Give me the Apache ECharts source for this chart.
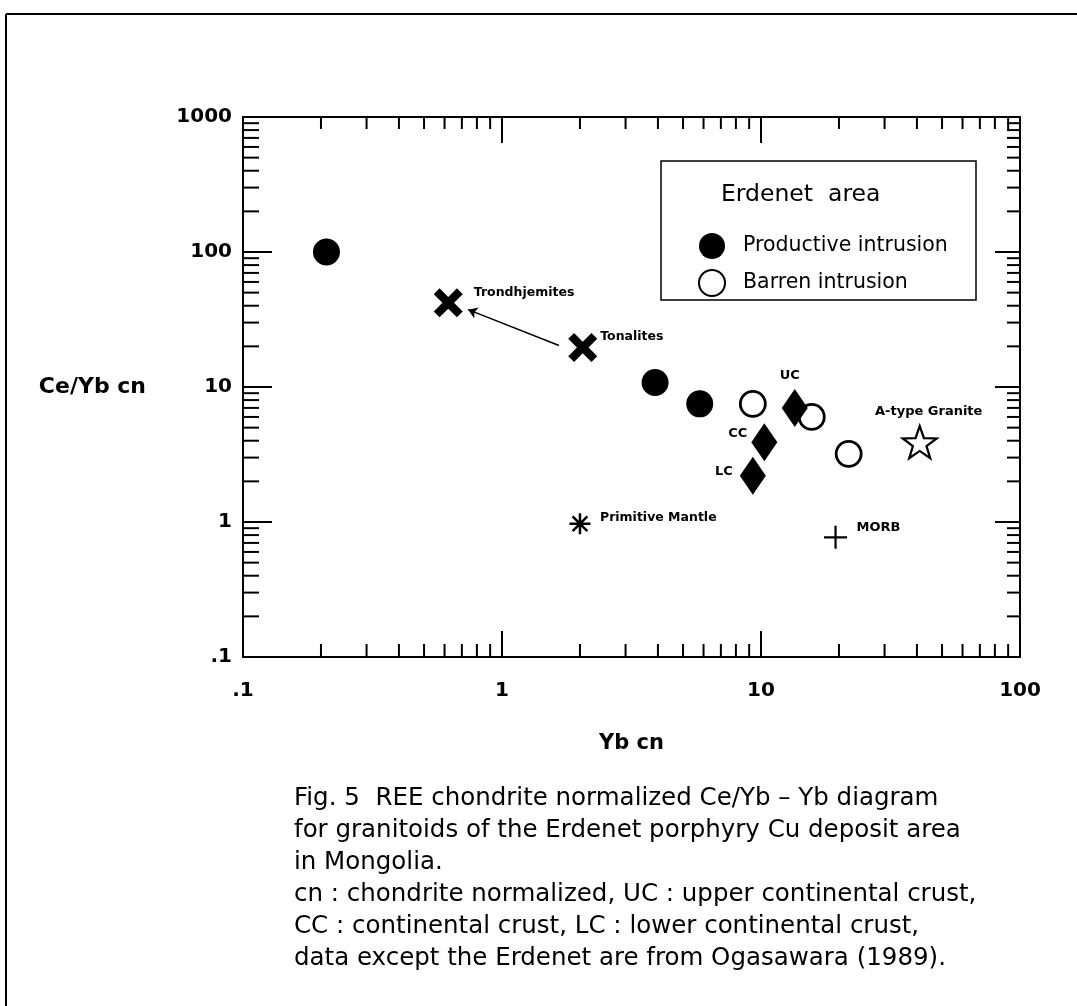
<!DOCTYPE html>
<html>
<head>
<meta charset="utf-8">
<script src="https://cdn.jsdelivr.net/npm/echarts@6/dist/echarts.min.js"></script>
<style>
  html, body { margin: 0; padding: 0; background: #fff; }
  #chart { width: 1077px; height: 1006px; }
</style>
</head>
<body>
<div id="chart"></div>
<script>
// values (Yb cn, Ce/Yb cn)
const productive = [[0.21, 100], [3.9, 10.8], [5.8, 7.5]];
const barren = [[9.3, 7.5], [15.7, 6.0], [21.8, 3.2]];
const crustNames = ['UC', 'CC', 'LC'];
const crust = [[13.5, 7.0], [10.3, 3.9], [9.3, 2.2]];
const trondhjemites = [0.62, 42];
const tonalites = [2.05, 19.6];
const primitiveMantle = [2.0, 0.97];
const morb = [19.4, 0.77];
const aTypeGranite = [41, 3.9];
const arrowPath = [[1.66, 20.3], [0.74, 37.4]];

// ticks
const xTicks = [0.1, 1, 10, 100];
const xTickLabels = ['.1', '1', '10', '100'];
const yTicks = [0.1, 1, 10, 100, 1000];
const yTickLabels = ['.1', '1', '10', '100', '1000'];
const minorSteps = [2, 3, 4, 5, 6, 7, 8, 9];

const xMinor = xTicks.slice(0, -1).flatMap(d => minorSteps.map(s => +(d * s).toPrecision(3)));
const yMinor = yTicks.slice(0, -1).flatMap(d => minorSteps.map(s => +(d * s).toPrecision(3)));

const FONT = 'DejaVu Sans';
const X_PATH = 'path://M20 0 L50 30 L80 0 L100 20 L70 50 L100 80 L80 100 L50 70 L20 100 L0 80 L30 50 L0 20 Z';
const ASTERISK = 'path://M50 0 L50 100 M0 50 L100 50 M15 15 L85 85 M85 15 L15 85';
const PLUS = 'path://M50 0 L50 100 M0 50 L100 50';
const STAR = 'path://M50 0 L61.76 33.82 L97.55 34.55 L69.02 56.18 L79.39 90.45 L50 70 L20.61 90.45 L30.98 56.18 L2.45 34.55 L38.24 33.82 Z';

function tickLabel(ticks, labels) {
  return function (v) {
    const i = ticks.findIndex(t => Math.abs(Math.log10(t) - Math.log10(v)) < 1e-6);
    return i < 0 ? '' : labels[i];
  };
}

const lineStyle = { color: '#000', width: 2 };
const smallLabel = { show: true, color: '#000', fontFamily: FONT, fontWeight: 'bold', fontSize: 13 };

function axisBase(min, max) {
  return {
    type: 'log',
    logBase: 10,
    min: min,
    max: max,
    axisLine: { show: true, onZero: false, lineStyle: lineStyle },
    splitLine: { show: false },
    minorTick: { show: false },
    minorSplitLine: { show: false }
  };
}

// minor tick marks (2..9 in every decade) drawn through the axis scales
function minorTicks(values, isX) {
  return {
    type: 'custom',
    coordinateSystem: 'cartesian2d',
    silent: true,
    z: 5,
    data: values.map(v => isX ? [v, yTicks[0]] : [xTicks[0], v]),
    renderItem: function (params, api) {
      const v = api.value(isX ? 0 : 1);
      const st = { stroke: '#000', lineWidth: 2 };
      if (isX) {
        const a = api.coord([v, yTicks[0]]);
        const b = api.coord([v, yTicks[yTicks.length - 1]]);
        return { type: 'group', children: [
          { type: 'line', shape: { x1: a[0], y1: a[1], x2: a[0], y2: a[1] - 13 }, style: st },
          { type: 'line', shape: { x1: b[0], y1: b[1], x2: b[0], y2: b[1] + 12 }, style: st }
        ] };
      }
      const a = api.coord([xTicks[0], v]);
      const b = api.coord([xTicks[xTicks.length - 1], v]);
      return { type: 'group', children: [
        { type: 'line', shape: { x1: a[0], y1: a[1], x2: a[0] + 16, y2: a[1] }, style: st },
        { type: 'line', shape: { x1: b[0], y1: b[1], x2: b[0] - 13, y2: b[1] }, style: st }
      ] };
    }
  };
}

const crustLabels = {
  UC: { position: 'top', offset: [-5, -2] },
  CC: { position: 'left', offset: [1, -9] },
  LC: { position: 'left', offset: [-2, -4] }
};

const chart = echarts.init(document.getElementById('chart'));
chart.setOption({
  backgroundColor: '#fff',
  animation: false,
  grid: { left: 243, right: 57, top: 117, bottom: 349, containLabel: false },
  xAxis: [
    Object.assign(axisBase(xTicks[0], xTicks[xTicks.length - 1]), {
      position: 'bottom',
      axisTick: { show: true, inside: true, length: 26, lineStyle: lineStyle },
      axisLabel: {
        margin: 24, color: '#000', fontFamily: FONT, fontWeight: 'bold', fontSize: 20,
        formatter: tickLabel(xTicks, xTickLabels)
      },
      name: 'Yb cn',
      nameLocation: 'middle',
      nameGap: 76,
      nameTextStyle: { color: '#000', fontFamily: FONT, fontWeight: 'bold', fontSize: 21 }
    }),
    Object.assign(axisBase(xTicks[0], xTicks[xTicks.length - 1]), {
      position: 'top',
      axisTick: { show: true, inside: true, length: 26, lineStyle: lineStyle },
      axisLabel: { show: false }
    })
  ],
  yAxis: [
    Object.assign(axisBase(yTicks[0], yTicks[yTicks.length - 1]), {
      position: 'left',
      axisTick: { show: true, inside: true, length: 29, lineStyle: lineStyle },
      axisLabel: {
        margin: 11, color: '#000', fontFamily: FONT, fontWeight: 'bold', fontSize: 20,
        formatter: tickLabel(yTicks, yTickLabels)
      },
      name: 'Ce/Yb cn',
      nameLocation: 'middle',
      nameRotate: 0,
      nameGap: 97,
      nameTextStyle: { color: '#000', fontFamily: FONT, fontWeight: 'bold', fontSize: 22 }
    }),
    Object.assign(axisBase(yTicks[0], yTicks[yTicks.length - 1]), {
      position: 'right',
      axisTick: { show: true, inside: true, length: 25, lineStyle: lineStyle },
      axisLabel: { show: false }
    })
  ],
  legend: {
    data: ['Productive intrusion', 'Barren intrusion'],
    orient: 'vertical',
    left: 698,
    top: 233,
    itemWidth: 52,
    itemHeight: 26,
    itemGap: 10,
    padding: 0,
    selectedMode: false,
    textStyle: { color: '#000', fontFamily: FONT, fontSize: 20.5 }
  },
  graphic: [
    { type: 'line', shape: { x1: 6, y1: 14, x2: 1077, y2: 14 }, style: { stroke: '#000', lineWidth: 2 } },
    { type: 'line', shape: { x1: 6, y1: 14, x2: 6, y2: 1006 }, style: { stroke: '#000', lineWidth: 2 } },
    { type: 'rect', shape: { x: 661, y: 161, width: 315, height: 139 }, style: { fill: 'none', stroke: '#000', lineWidth: 1.5 } },
    { type: 'text', left: 721, top: 183, style: { text: 'Erdenet  area', fill: '#000', font: '23.5px "DejaVu Sans"' } },
    {
      type: 'text', left: 294, top: 783,
      style: {
        text: 'Fig. 5  REE chondrite normalized Ce/Yb \u2013 Yb diagram\n' +
              'for granitoids of the Erdenet porphyry Cu deposit area\n' +
              'in Mongolia.\n' +
              'cn : chondrite normalized, UC : upper continental crust,\n' +
              'CC : continental crust, LC : lower continental crust,\n' +
              'data except the Erdenet are from Ogasawara (1989).',
        fill: '#000', font: '24.5px "DejaVu Sans"', lineHeight: 32
      }
    }
  ],
  series: [
    minorTicks(xMinor, true),
    minorTicks(yMinor, false),
    {
      name: 'Productive intrusion', type: 'scatter', symbol: 'circle', symbolSize: 27,
      itemStyle: { color: '#000', opacity: 1 },
      data: productive
    },
    {
      name: 'Barren intrusion', type: 'scatter', symbol: 'circle', symbolSize: 25,
      itemStyle: { color: '#fff', borderColor: '#000', borderWidth: 2.8, opacity: 1 },
      data: barren
    },
    {
      name: 'Crust', type: 'scatter', symbol: 'diamond', symbolSize: [26, 38],
      itemStyle: { color: '#000', opacity: 1 },
      data: crust.map((p, i) => ({
        value: p, name: crustNames[i],
        label: Object.assign({}, smallLabel, crustLabels[crustNames[i]], { formatter: crustNames[i] })
      }))
    },
    {
      name: 'Trondhjemites', type: 'scatter', symbol: X_PATH, symbolSize: 29,
      itemStyle: { color: '#000', opacity: 1 },
      label: Object.assign({}, smallLabel, { fontSize: 12.5, position: 'right', offset: [6, -10], formatter: 'Trondhjemites' }),
      data: [trondhjemites]
    },
    {
      name: 'Tonalites', type: 'scatter', symbol: X_PATH, symbolSize: 29,
      itemStyle: { color: '#000', opacity: 1 },
      label: Object.assign({}, smallLabel, { fontSize: 12.5, position: 'right', offset: [-2, -11], formatter: 'Tonalites' }),
      data: [tonalites]
    },
    {
      name: 'Primitive Mantle', type: 'scatter', symbol: ASTERISK, symbolSize: 21,
      itemStyle: { color: 'none', borderColor: '#000', borderWidth: 2.5, opacity: 1 },
      label: Object.assign({}, smallLabel, { fontSize: 12.5, position: 'right', offset: [2, -6], formatter: 'Primitive Mantle' }),
      data: [primitiveMantle]
    },
    {
      name: 'MORB', type: 'scatter', symbol: PLUS, symbolSize: 23,
      itemStyle: { color: 'none', borderColor: '#000', borderWidth: 2.2, opacity: 1 },
      label: Object.assign({}, smallLabel, { position: 'right', offset: [2, -10], formatter: 'MORB' }),
      data: [morb]
    },
    {
      name: 'A-type Granite', type: 'scatter', symbol: STAR, symbolSize: [34, 32],
      itemStyle: { color: '#fff', borderColor: '#000', borderWidth: 2.2, opacity: 1 },
      label: Object.assign({}, smallLabel, { position: 'top', offset: [9, -2], formatter: 'A-type Granite' }),
      data: [aTypeGranite]
    },
    {
      name: 'arrow', type: 'lines', coordinateSystem: 'cartesian2d', silent: true,
      symbol: ['none', 'arrow'], symbolSize: 9,
      lineStyle: { color: '#000', width: 1.5, opacity: 1 },
      data: [{ coords: arrowPath }]
    }
  ]
});
</script>
</body>
</html>
